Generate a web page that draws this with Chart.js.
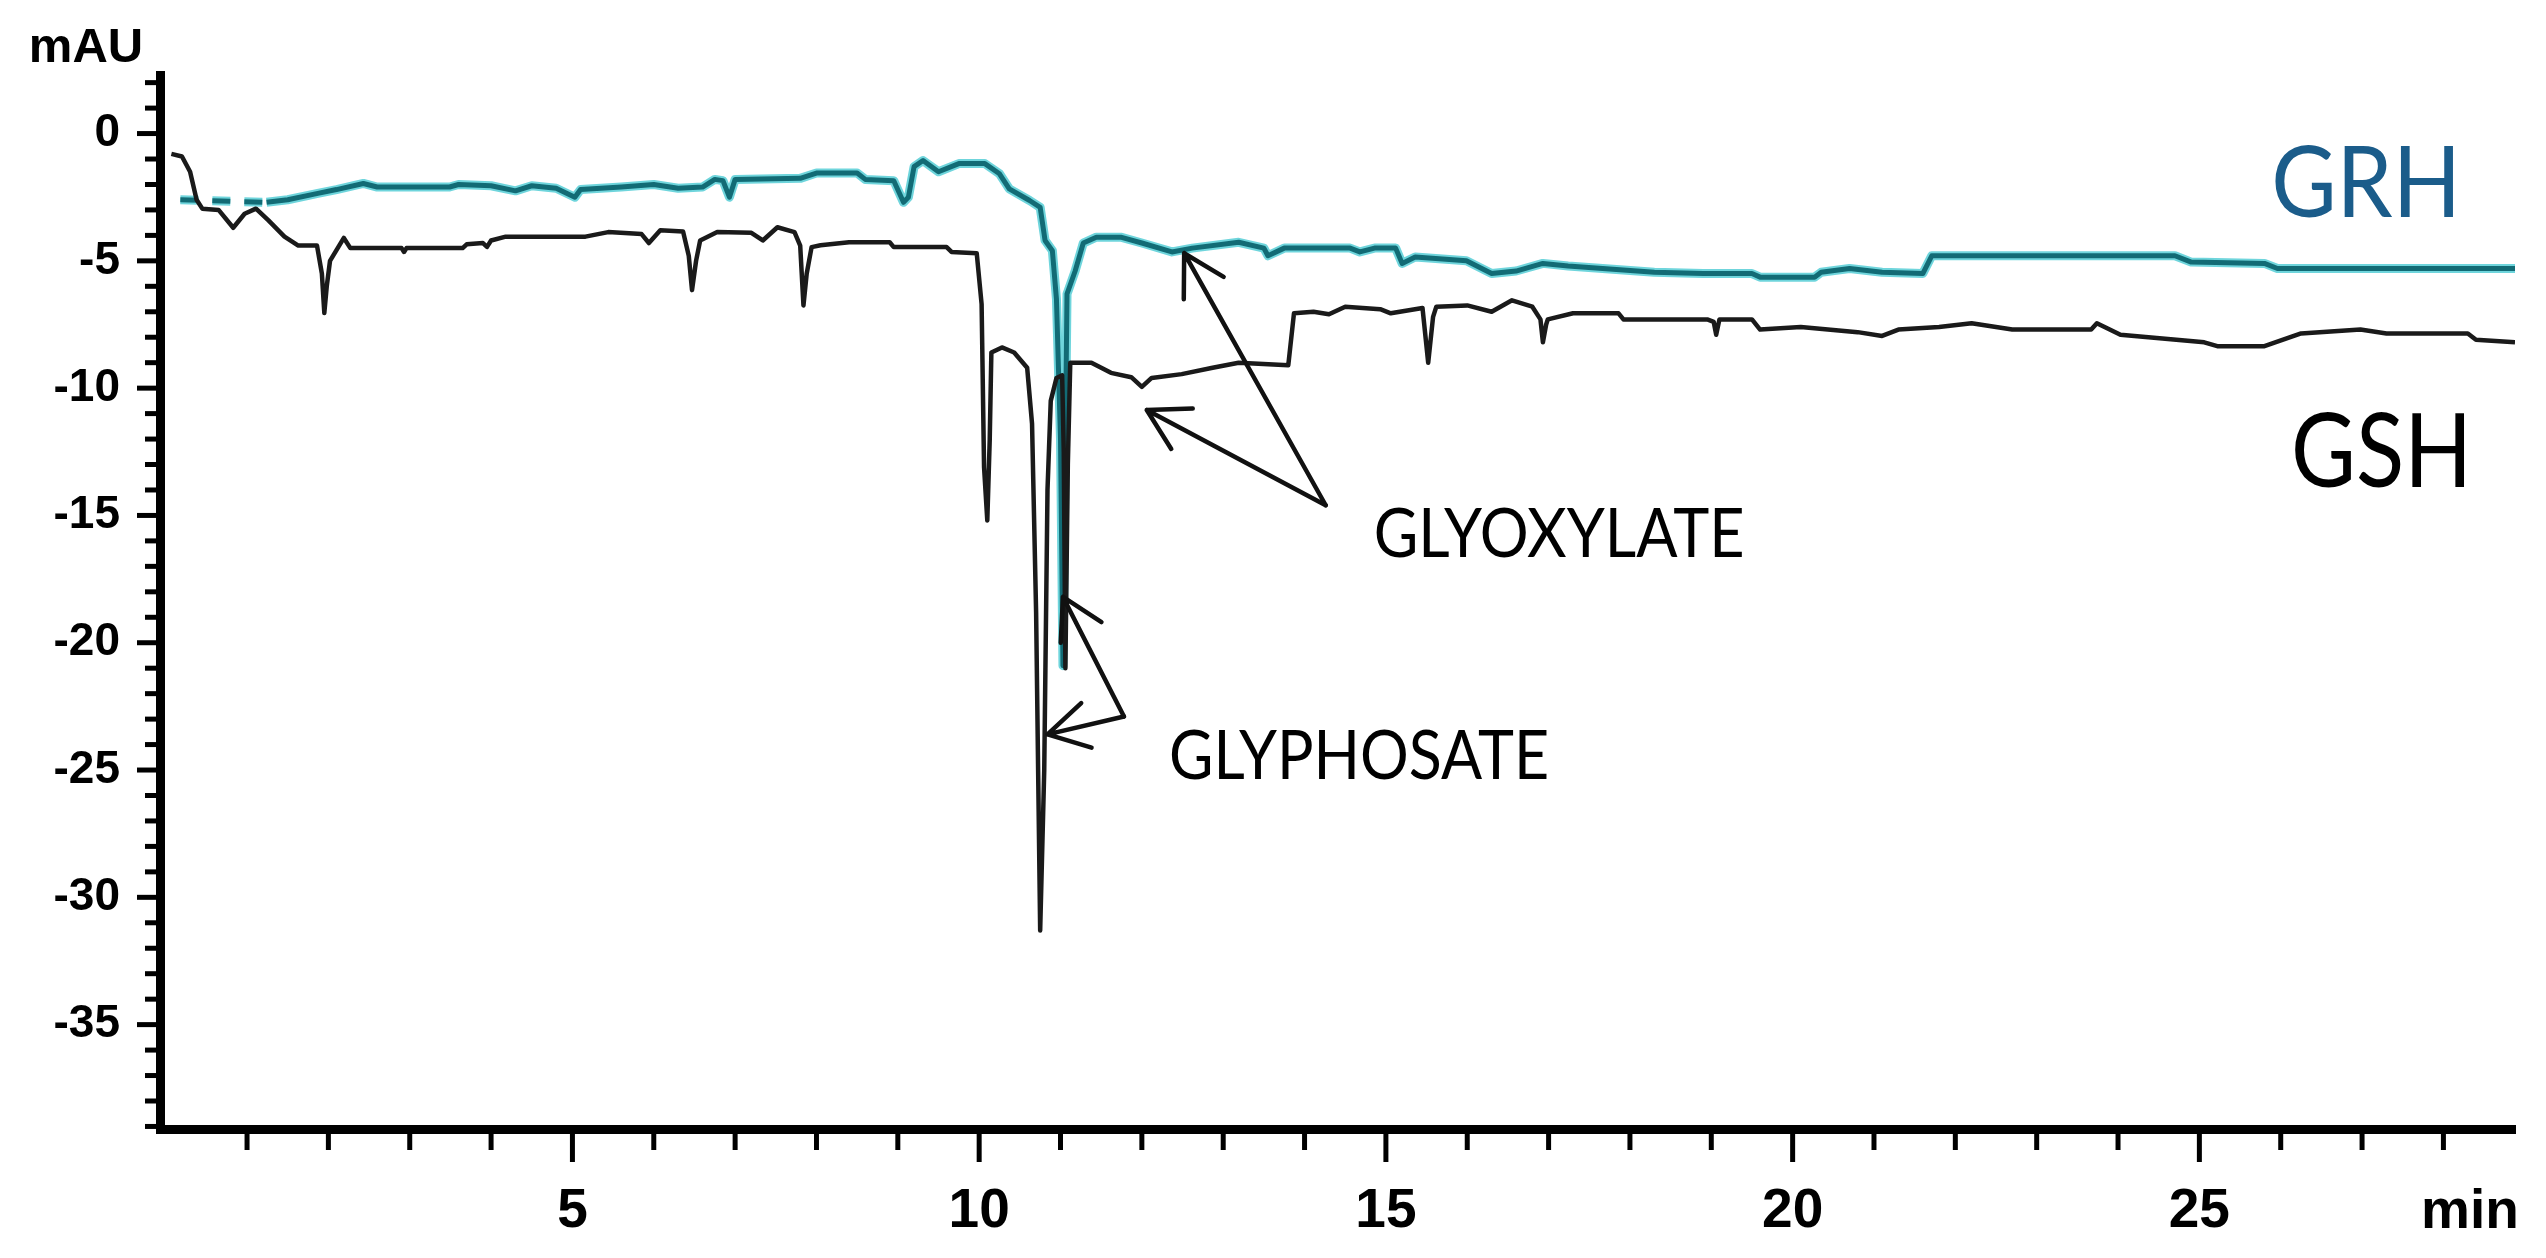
<!DOCTYPE html>
<html lang="en">
<head>
  <meta charset="UTF-8">
  <title>GRH / GSH chromatogram</title>
  <script src="https://cdn.jsdelivr.net/npm/chart.js"></script>
  <style>
    html, body { margin: 0; padding: 0; background: #fff; }
  </style>
</head>
<body>
  <canvas id="cromatograma" width="2546" height="1258"></canvas>

<script>
  // retention time (min) and absorbance (mAU)
  var grhTime = [0.18, 1.24, 1.5, 1.87, 2.1, 2.43, 2.6, 3.49, 3.6, 4.0, 4.3, 4.5, 4.8, 5.03, 5.1, 5.6, 6.0, 6.3, 6.6,
    6.75, 6.85, 6.93, 7.0, 7.8, 8.0, 8.5, 8.6, 8.95, 9.07, 9.13, 9.2, 9.31, 9.5, 9.75, 10.07, 10.25, 10.37, 10.62,
    10.75, 10.81, 10.9, 10.95, 11.0, 11.03, 11.06, 11.08, 11.18, 11.28, 11.44, 11.74, 12.0, 12.37, 12.62, 13.19,
    13.5, 13.55, 13.75, 14.56, 14.68, 14.86, 15.12, 15.2, 15.36, 15.99, 16.3, 16.6, 16.93, 17.24, 18.3, 18.9, 19.5,
    19.6, 20.27, 20.35, 20.7, 21.1, 21.6, 21.71, 24.7, 24.9, 25.8, 25.96, 28.88];
  var grhMAU = [-2.6, -2.7, -2.6, -2.35, -2.2, -1.96, -2.1, -2.1, -2.0, -2.05, -2.25, -2.05, -2.15, -2.5, -2.2, -2.1,
    -2.0, -2.15, -2.1, -1.8, -1.85, -2.5, -1.8, -1.76, -1.55, -1.55, -1.8, -1.85, -2.7, -2.5, -1.3, -1.06, -1.5, -1.18,
    -1.18, -1.58, -2.17, -2.63, -2.9, -4.2, -4.6, -6.5, -12.0, -20.9, -12.0, -6.3, -5.4, -4.3, -4.07, -4.07, -4.3,
    -4.65, -4.5, -4.27, -4.5, -4.8, -4.5, -4.5, -4.65, -4.5, -4.5, -5.1, -4.85, -5.0, -5.5, -5.4, -5.1, -5.2, -5.45,
    -5.5, -5.5, -5.64, -5.64, -5.45, -5.3, -5.45, -5.5, -4.8, -4.8, -5.05, -5.1, -5.3, -5.3];

  var gshTime = [0.07, 0.2, 0.3, 0.38, 0.45, 0.65, 0.83, 0.97, 1.11, 1.26, 1.46, 1.63, 1.86, 1.92, 1.95, 1.98, 2.02,
    2.19, 2.27, 2.9, 2.93, 2.96, 3.65, 3.7, 3.9, 3.95, 4.0, 4.18, 5.16, 5.44, 5.85, 5.94, 6.08, 6.36, 6.43, 6.47, 6.52,
    6.57, 6.78, 7.2, 7.34, 7.52, 7.73, 7.8, 7.84, 7.88, 7.94, 8.05, 8.4, 8.9, 8.95, 9.6, 9.66, 9.97, 10.03, 10.06,
    10.1, 10.13, 10.15, 10.28, 10.43, 10.59, 10.65, 10.7, 10.75, 10.8, 10.84, 10.88, 10.95, 11.02, 11.04, 11.06,
    11.09, 11.12, 11.38, 11.62, 11.87, 12.0, 12.12, 12.49, 12.87, 13.19, 13.8, 13.87, 14.11, 14.3, 14.5, 14.93,
    15.06, 15.45, 15.52, 15.58, 15.62, 16.0, 16.3, 16.55, 16.8, 16.9, 16.93, 16.97, 16.99, 17.3, 17.86, 17.92,
    18.95, 19.03, 19.06, 19.1, 19.5, 19.6, 20.1, 20.8, 21.1, 21.3, 21.8, 22.2, 22.7, 23.67, 23.74, 24.03, 25.06,
    25.22, 25.8, 26.25, 26.98, 27.3, 28.3, 28.4, 28.88];
  var gshMAU = [-0.8, -0.9, -1.5, -2.6, -2.95, -3.0, -3.7, -3.15, -2.95, -3.4, -4.05, -4.4, -4.4, -5.5, -7.05, -6.0,
    -5.0, -4.1, -4.5, -4.5, -4.65, -4.5, -4.5, -4.35, -4.3, -4.45, -4.2, -4.05, -4.05, -3.87, -3.95, -4.3, -3.8,
    -3.85, -4.8, -6.15, -5.0, -4.2, -3.87, -3.9, -4.2, -3.68, -3.87, -4.4, -6.75, -5.5, -4.46, -4.39, -4.27, -4.27,
    -4.46, -4.46, -4.65, -4.7, -6.7, -13.1, -15.2, -12.0, -8.6, -8.4, -8.6, -9.2, -11.4, -18.8, -31.3, -25.0, -14.0,
    -10.5, -9.6, -9.5, -12.5, -21.0, -13.0, -9.0, -9.0, -9.4, -9.57, -9.95, -9.6, -9.45, -9.2, -9.0, -9.1, -7.06,
    -7.0, -7.1, -6.8, -6.9, -7.06, -6.85, -9.0, -7.2, -6.8, -6.75, -7.0, -6.55, -6.8, -7.3, -8.2, -7.5, -7.3, -7.06,
    -7.06, -7.3, -7.3, -7.4, -7.9, -7.3, -7.3, -7.7, -7.6, -7.8, -7.95, -7.7, -7.6, -7.45, -7.7, -7.7, -7.45, -7.9,
    -8.2, -8.35, -8.35, -7.85, -7.7, -7.85, -7.85, -8.1, -8.2];

  // labelled ticks
  var yTickLabels = [0, -5, -10, -15, -20, -25, -30, -35];
  var xTickLabels = [5, 10, 15, 20, 25];

  // peak labels and arrows, in data coordinates (min, mAU)
  var peakLabels = [
    { text: 'GRH', t: 27.05, v: -3.29, size: 98, width: 190, color: '#1b5c8a' },
    { text: 'GSH', t: 27.24, v: -13.88, size: 103, width: 181, color: '#000' },
    { text: 'GLYOXYLATE', t: 17.13, v: -16.63, size: 68, width: 371, color: '#000' },
    { text: 'GLYPHOSATE', t: 14.67, v: -25.37, size: 68, width: 380, color: '#000' }
  ];
  var peakArrows = [
    { from: [14.26, -14.6], to: [12.52, -4.7] },
    { from: [14.26, -14.6], to: [12.06, -10.86] },
    { from: [11.78, -22.9], to: [10.84, -23.6] },
    { from: [11.78, -22.9], to: [11.03, -18.2] }
  ];

  var narrowFont = "'Liberation Sans Narrow', 'Liberation Sans', Arial, sans-serif";

  function pares(tempos, valores) {
    var pts = [];
    for (var i = 0; i < tempos.length; i++) {
      pts.push({ x: tempos[i], y: valores[i] });
    }
    return pts;
  }

  function intTicks(de, ate) {
    var t = [];
    for (var v = de; v <= ate; v++) t.push({ value: v });
    return t;
  }

  // the GRH trace is dashed for the first minute or so
  function inicioTracejado(c) {
    return c.p1.parsed.x <= 1.3 ? [18, 14] : undefined;
  }

  // text squeezed to the width seen in the figure (the original uses a narrow font)
  function drawLabel(ctx, lab, x, y) {
    ctx.save();
    ctx.font = lab.size + "px Lato, 'Open Sans', sans-serif";
    ctx.fillStyle = lab.color;
    ctx.textBaseline = 'alphabetic';
    ctx.textAlign = 'center';
    var w = ctx.measureText(lab.text).width;
    ctx.translate(x, y);
    ctx.scale(lab.width / w, 1);
    ctx.fillText(lab.text, 0, 0);
    ctx.restore();
  }

  function drawArrow(ctx, x1, y1, x2, y2) {
    var ang = Math.atan2(y1 - y2, x1 - x2);
    var barb = 46;
    ctx.beginPath();
    ctx.moveTo(x1, y1);
    ctx.lineTo(x2, y2);
    ctx.moveTo(x2 + barb * Math.cos(ang - 0.52), y2 + barb * Math.sin(ang - 0.52));
    ctx.lineTo(x2, y2);
    ctx.lineTo(x2 + barb * Math.cos(ang + 0.52), y2 + barb * Math.sin(ang + 0.52));
    ctx.stroke();
  }

  var decoracao = {
    id: 'decoracao',
    afterDatasetsDraw: function (chart) {
      var ctx = chart.ctx;
      var xs = chart.scales.x, ys = chart.scales.y;
      ctx.save();
      ctx.strokeStyle = '#111';
      ctx.lineWidth = 4.5;
      ctx.lineCap = 'round';
      ctx.lineJoin = 'round';
      peakArrows.forEach(function (a) {
        drawArrow(ctx, xs.getPixelForValue(a.from[0]), ys.getPixelForValue(a.from[1]),
          xs.getPixelForValue(a.to[0]), ys.getPixelForValue(a.to[1]));
      });
      ctx.restore();
      peakLabels.forEach(function (lab) {
        drawLabel(ctx, lab, xs.getPixelForValue(lab.t), ys.getPixelForValue(lab.v));
      });
    },
    afterDraw: function (chart) {
      var ctx = chart.ctx;
      var xs = chart.scales.x, ys = chart.scales.y;
      var area = chart.chartArea;
      ctx.save();
      ctx.strokeStyle = '#000';
      ctx.lineWidth = 5;
      // minor / major tick marks
      xs.ticks.forEach(function (t) {
        var px = xs.getPixelForValue(t.value);
        var len = xTickLabels.indexOf(t.value) >= 0 ? 33 : 21;
        ctx.beginPath();
        ctx.moveTo(px, area.bottom);
        ctx.lineTo(px, area.bottom + len);
        ctx.stroke();
      });
      ys.ticks.forEach(function (t) {
        var py = ys.getPixelForValue(t.value);
        var len = yTickLabels.indexOf(t.value) >= 0 ? 23 : 15;
        ctx.beginPath();
        ctx.moveTo(area.left, py);
        ctx.lineTo(area.left - len, py);
        ctx.stroke();
      });
      // axis units
      ctx.fillStyle = '#000';
      ctx.textAlign = 'center';
      ctx.textBaseline = 'alphabetic';
      ctx.font = "bold 49px 'Liberation Sans', Arial, sans-serif";
      ctx.fillText('mAU', 86, 62);
      ctx.font = 'bold 55px ' + narrowFont;
      ctx.fillText('min', 2470, 1228);
      ctx.restore();
    }
  };

  var ctx = document.getElementById('cromatograma').getContext('2d');
  var myChart = new Chart(ctx, {
    type: 'line',
    data: {
      datasets: [{
        label: 'GSH',
        data: pares(gshTime, gshMAU),
        borderColor: '#1a1a1a',
        borderWidth: 4.5,
        order: 0
      }, {
        label: 'GRH',
        data: pares(grhTime, grhMAU),
        borderColor: '#126b75',
        borderWidth: 5,
        segment: { borderDash: inicioTracejado },
        order: 1
      }, {
        label: 'GRH halo',
        data: pares(grhTime, grhMAU),
        borderColor: '#6fd5dc',
        borderWidth: 9,
        segment: { borderDash: inicioTracejado },
        order: 2
      }]
    },
    options: {
      responsive: false,
      animation: false,
      events: [],
      elements: {
        point: { radius: 0 },
        line: { tension: 0, borderJoinStyle: 'round', borderCapStyle: 'butt' }
      },
      layout: { padding: { top: 75, right: 31, left: 0, bottom: 0 } },
      plugins: { legend: { display: false }, tooltip: { enabled: false } },
      scales: {
        x: {
          type: 'linear',
          min: -0.07,
          max: 28.88,
          afterBuildTicks: function (scale) { scale.ticks = intTicks(1, 28); },
          afterFit: function (scale) {
            scale.height = 129;
            scale.paddingLeft = 0;
            scale.paddingRight = 0;
          },
          grid: { display: false, drawTicks: false },
          border: { display: true, color: '#000', width: 9 },
          ticks: {
            autoSkip: false,
            maxRotation: 0,
            padding: 50,
            color: '#000',
            font: { family: narrowFont, size: 55, weight: 'bold' },
            callback: function (v) { return xTickLabels.indexOf(v) >= 0 ? String(v) : ''; }
          }
        },
        y: {
          type: 'linear',
          min: -39.1,
          max: 2.3,
          afterBuildTicks: function (scale) { scale.ticks = intTicks(-39, 2); },
          afterFit: function (scale) {
            scale.width = 160;
            scale.paddingTop = 0;
            scale.paddingBottom = 0;
          },
          grid: { display: false, drawTicks: false },
          border: { display: true, color: '#000', width: 9 },
          ticks: {
            autoSkip: false,
            padding: 40,
            color: '#000',
            font: { family: "'Liberation Sans', Arial, sans-serif", size: 46, weight: 'bold' },
            callback: function (v) { return yTickLabels.indexOf(v) >= 0 ? String(v) : ''; }
          }
        }
      }
    },
    plugins: [decoracao]
  });
</script>
</body>
</html>
